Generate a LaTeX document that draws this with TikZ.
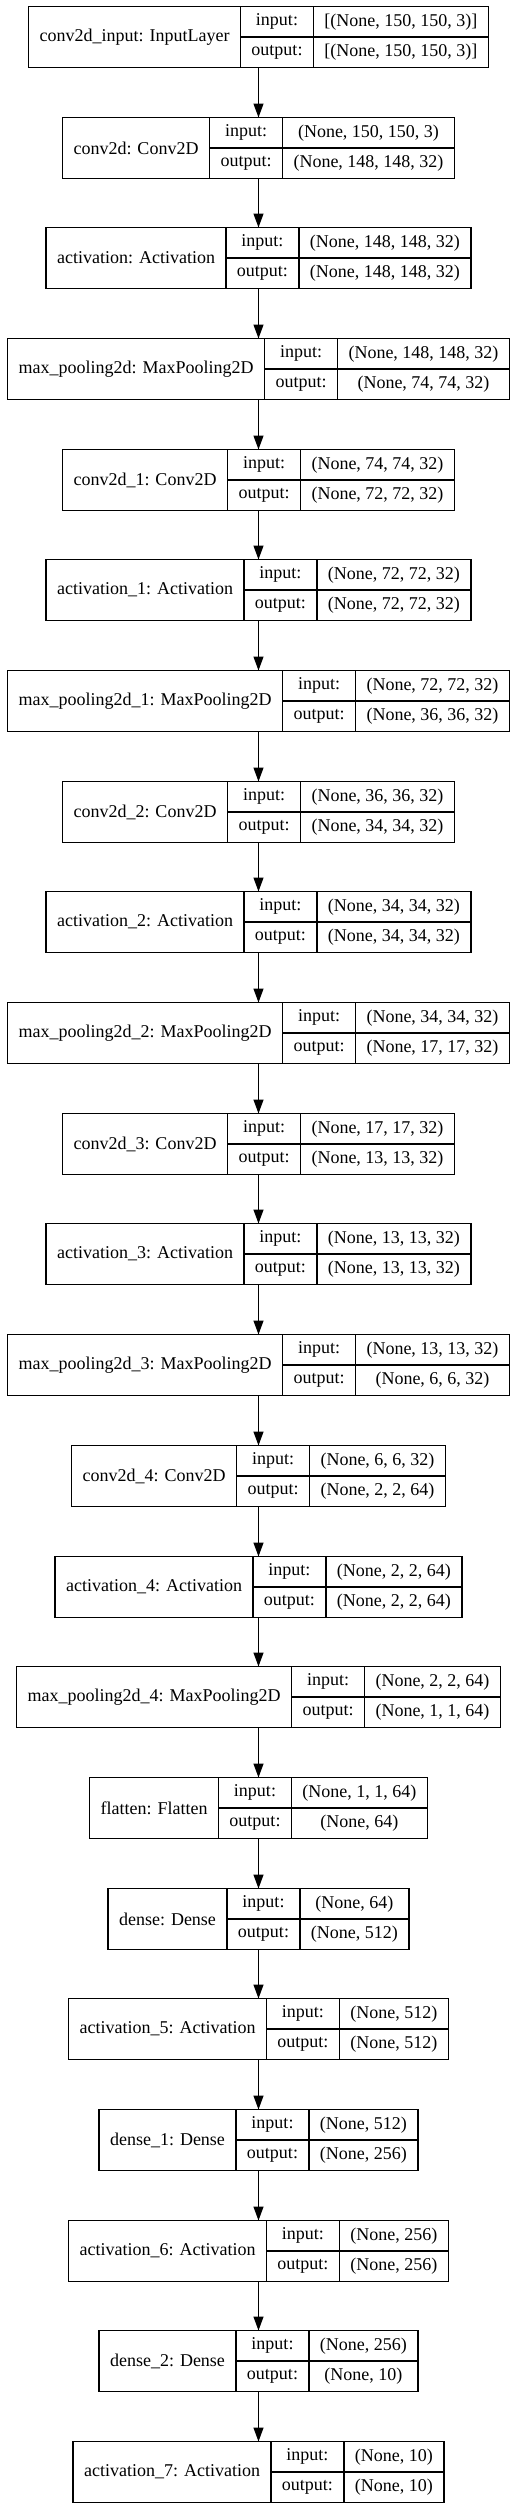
\documentclass[tikz,border=0pt]{standalone}
\usepackage{fontspec}
\setmainfont{Liberation Serif}
\usepackage{tikz}
\usetikzlibrary{arrows.meta,positioning,fit}
\newdimen\lenlbl
\newdimen\lenin
\newdimen\lenout
\newdimen\lenmid
\newcommand\layerfont{\fontsize{18}{21}\selectfont}
\tikzset{
  cell/.style={draw, line width=1.3pt, inner sep=0pt, outer sep=0pt, font=\layerfont},
  lcell/.style={cell, minimum height=61pt},
  pcell/.style={cell, minimum height=30.5pt},
  flow/.style={-{Triangle[length=14pt,width=10pt]}, line width=1.3pt}
}
\begin{document}
\begin{tikzpicture}[x=1pt,y=1pt]
    \useasboundingbox (-258.5,0) rectangle (258.5,-2508);
    \foreach \lbl/\inp/\outp [count=\i] in {
      {conv2d\_input: InputLayer}/{[(None, 150, 150, 3)]}/{[(None, 150, 150, 3)]},
      {conv2d: Conv2D}/{(None, 150, 150, 3)}/{(None, 148, 148, 32)},
      {activation: Activation}/{(None, 148, 148, 32)}/{(None, 148, 148, 32)},
      {max\_pooling2d: MaxPooling2D}/{(None, 148, 148, 32)}/{(None, 74, 74, 32)},
      {conv2d\_1: Conv2D}/{(None, 74, 74, 32)}/{(None, 72, 72, 32)},
      {activation\_1: Activation}/{(None, 72, 72, 32)}/{(None, 72, 72, 32)},
      {max\_pooling2d\_1: MaxPooling2D}/{(None, 72, 72, 32)}/{(None, 36, 36, 32)},
      {conv2d\_2: Conv2D}/{(None, 36, 36, 32)}/{(None, 34, 34, 32)},
      {activation\_2: Activation}/{(None, 34, 34, 32)}/{(None, 34, 34, 32)},
      {max\_pooling2d\_2: MaxPooling2D}/{(None, 34, 34, 32)}/{(None, 17, 17, 32)},
      {conv2d\_3: Conv2D}/{(None, 17, 17, 32)}/{(None, 13, 13, 32)},
      {activation\_3: Activation}/{(None, 13, 13, 32)}/{(None, 13, 13, 32)},
      {max\_pooling2d\_3: MaxPooling2D}/{(None, 13, 13, 32)}/{(None, 6, 6, 32)},
      {conv2d\_4: Conv2D}/{(None, 6, 6, 32)}/{(None, 2, 2, 64)},
      {activation\_4: Activation}/{(None, 2, 2, 64)}/{(None, 2, 2, 64)},
      {max\_pooling2d\_4: MaxPooling2D}/{(None, 2, 2, 64)}/{(None, 1, 1, 64)},
      {flatten: Flatten}/{(None, 1, 1, 64)}/{(None, 64)},
      {dense: Dense}/{(None, 64)}/{(None, 512)},
      {activation\_5: Activation}/{(None, 512)}/{(None, 512)},
      {dense\_1: Dense}/{(None, 512)}/{(None, 256)},
      {activation\_6: Activation}/{(None, 256)}/{(None, 256)},
      {dense\_2: Dense}/{(None, 256)}/{(None, 10)},
      {activation\_7: Activation}/{(None, 10)}/{(None, 10)}}{
      % measure the texts with the real font
      \pgfinterruptpicture
        \settowidth{\lenlbl}{\layerfont\lbl}\global\lenlbl=\lenlbl
        \settowidth{\lenin}{\layerfont\inp}\global\lenin=\lenin
        \settowidth{\lenout}{\layerfont\outp}\global\lenout=\lenout
        \settowidth{\lenmid}{\layerfont output:}\global\lenmid=\lenmid
      \endpgfinterruptpicture
      \pgfmathsetmacro\wl{\the\lenlbl+22}
      \pgfmathsetmacro\wm{\the\lenmid+22}
      \pgfmathsetmacro\wr{max(\the\lenin,\the\lenout)+22}
      \pgfmathsetmacro\xs{-(\wl+\wm+\wr)/2}
      \pgfmathsetmacro\ys{-6.5-round(110.68*(\i-1))}
      \node (L\i) [lcell,minimum width=\wl pt,anchor=north west] at (\xs,\ys) {\lbl};
      \node (I\i) [pcell,minimum width=\wm pt,anchor=north west] at (L\i.north east) {input:};
      \node (O\i) [pcell,minimum width=\wm pt,anchor=north west] at (I\i.south west) {output:};
      \node (Ri\i) [pcell,minimum width=\wr pt,anchor=north west] at (I\i.north east) {\inp};
      \node (Ro\i) [pcell,minimum width=\wr pt,anchor=north west] at (O\i.north east) {\outp};
      \node (layer\i) [fit=(L\i)(Ro\i),inner sep=0pt,outer sep=0pt] {};
      \ifnum\i>1
        \pgfmathtruncatemacro\j{\i-1}
        \draw[flow] (layer\j.south) -- (layer\i.north);
      \fi
    }
\end{tikzpicture}
\end{document}
